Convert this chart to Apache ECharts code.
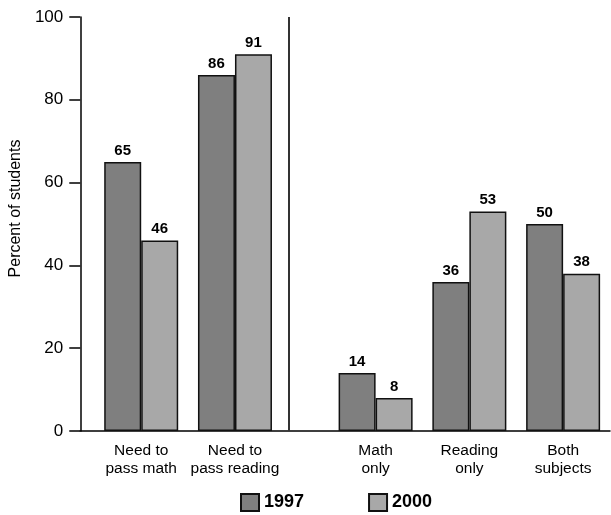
<!DOCTYPE html>
<html>
<head>
<meta charset="utf-8">
<script src="https://cdn.jsdelivr.net/npm/echarts@6/dist/echarts.min.js"></script>
<style>html,body{margin:0;padding:0;background:#fff;}#c{width:611px;height:515px;}</style>
</head>
<body>
<div id="c"></div>
<script>
// Data
var categories = ['Need to\npass math', 'Need to\npass reading', 'Math\nonly', 'Reading\nonly', 'Both\nsubjects'];
var values1997 = [65, 86, 14, 36, 50];
var values2000 = [46, 91, 8, 53, 38];
var seriesNames = ['1997', '2000'];
var yTicks = [0, 20, 40, 60, 80, 100];

// Layout (positions of the category groups on the x scale; gap between panels)
var catPos = [0, 1, 2.5, 3.5, 4.5];
var separatorPos = 1.77;

function pairs(vals) { return vals.map(function (v, i) { return [catPos[i], v]; }); }

var chart = echarts.init(document.getElementById('c'));
var font = 'Liberation Sans, Arial, sans-serif';
var labelStyle = { show: true, position: 'top', distance: 4, color: '#000', fontWeight: 'bold', fontSize: 15, fontFamily: font };
chart.setOption({
  animation: false,
  backgroundColor: '#fff',
  textStyle: { fontFamily: font },
  grid: { left: 80, right: 1, top: 17, bottom: 84 },
  legend: {
    data: seriesNames,
    bottom: 3,
    left: 240,
    padding: 0,
    icon: 'rect',
    itemWidth: 18,
    itemHeight: 17,
    itemGap: 64,
    textStyle: { fontSize: 18, fontWeight: 'bold', color: '#000', fontFamily: font }
  },
  xAxis: {
    type: 'value',
    min: -0.65,
    max: 5,
    splitLine: { show: false },
    axisLine: { show: true, onZero: false, lineStyle: { color: '#000', width: 1.5 } },
    axisTick: { show: false },
    axisLabel: {
      customValues: catPos,
      formatter: function (v) {
        var i = catPos.indexOf(v);
        return i >= 0 ? categories[i] : '';
      },
      color: '#000', fontSize: 15.5, lineHeight: 18, margin: 11, fontFamily: font
    }
  },
  yAxis: {
    type: 'value',
    min: yTicks[0], max: yTicks[yTicks.length - 1], interval: 20,
    name: 'Percent of students',
    nameLocation: 'middle',
    nameGap: 50,
    nameTextStyle: { fontSize: 16, color: '#000', fontFamily: font, padding: [0, 0, 0, 31] },
    splitLine: { show: false },
    axisLine: { show: true, onZero: false, lineStyle: { color: '#000', width: 1.5 } },
    axisTick: { show: true, length: 11, lineStyle: { color: '#000', width: 1.5 } },
    axisLabel: { color: '#000', fontSize: 17, margin: 17, fontFamily: font }
  },
  series: [
    {
      name: seriesNames[0], type: 'bar', data: pairs(values1997),
      barWidth: 37, barGap: '0%',
      itemStyle: { color: '#7f7f7f', borderColor: '#111', borderWidth: 1.5 },
      label: labelStyle,
      markLine: {
        silent: true, symbol: 'none', label: { show: false },
        lineStyle: { color: '#333', width: 2, type: 'solid' },
        data: [{ xAxis: separatorPos }]
      }
    },
    {
      name: seriesNames[1], type: 'bar', data: pairs(values2000),
      barWidth: 37, barGap: '0%',
      itemStyle: { color: '#a8a8a8', borderColor: '#111', borderWidth: 1.5 },
      label: labelStyle
    }
  ]
});
</script>
</body>
</html>
